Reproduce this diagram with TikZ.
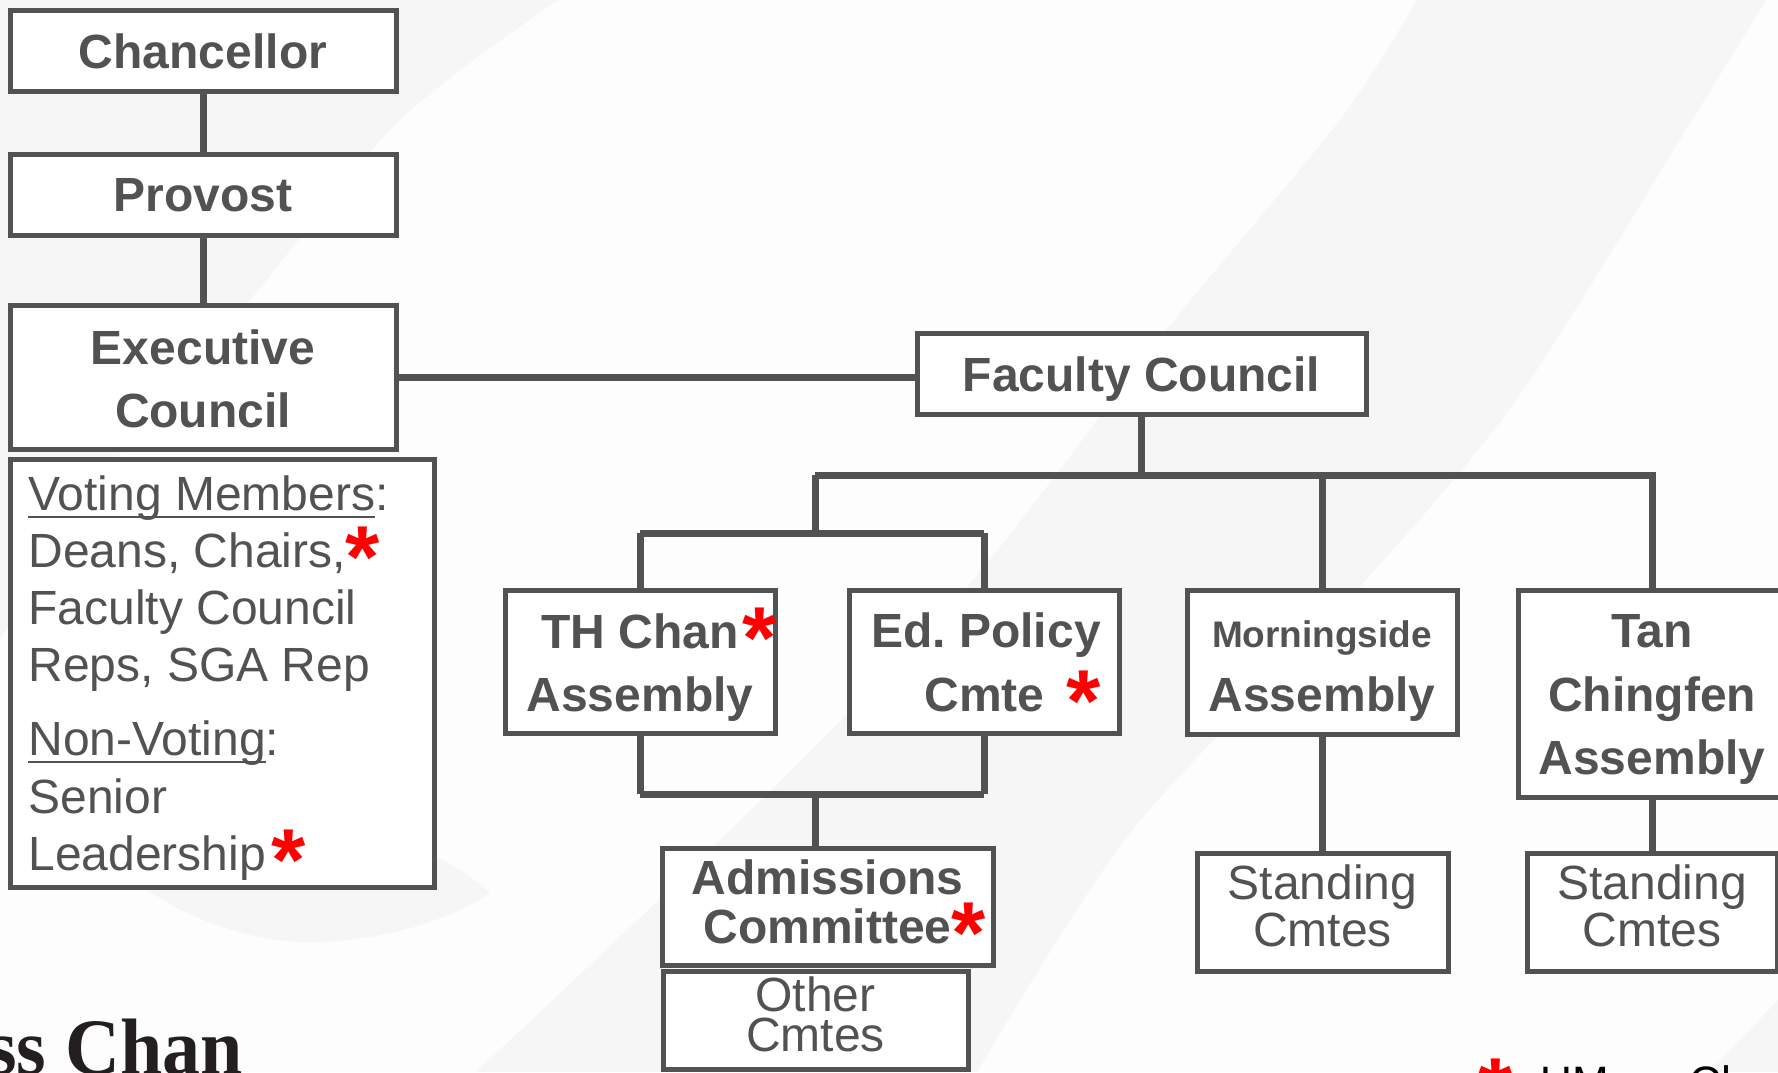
\documentclass[tikz,border=0pt]{standalone}
\usepackage{fontspec}
\setmainfont{Liberation Sans}
\newfontfamily\brandserif{Liberation Serif}
\definecolor{ink}{HTML}{525252}
\definecolor{bgc}{HTML}{FDFDFD}
\definecolor{band}{HTML}{F6F6F6}
\definecolor{starred}{HTML}{FF0000}
\definecolor{brandink}{HTML}{231F20}
\newcommand\redstar{\smash{{\fontsize{44pt}{44pt}\selectfont\raisebox{-0.23em}{\bfseries\color{starred}*}}}}
\newcommand\myul[1]{\setbox0=\hbox{#1}\rlap{\rule[-4pt]{\wd0}{1pt}}\box0}
\tikzset{
  x=0.5pt, y=-0.5pt,
  orgbox/.style={draw=ink, line width=2.5pt, fill=white, inner sep=0pt},
  boldlabel/.style={inner sep=0pt, align=center, text=ink, font=\bfseries\fontsize{24pt}{31.75pt}\selectfont},
  plainlabel/.style={inner sep=0pt, align=center, text=ink, font=\fontsize{24pt}{23.5pt}\selectfont},
  conn/.style={draw=ink, line width=3.5pt},
  vtext/.style={inner sep=0pt, text=ink, font=\fontsize{24pt}{28pt}\selectfont, anchor=base west},
}
\begin{document}
\begin{tikzpicture}
\useasboundingbox (0,0) rectangle (1778,1072);
\begin{scope}
\clip (0,0) rectangle (1778,1072);
\fill[bgc] (0,0) rectangle (1778,1072);
% faint background bands
\fill[band] plot[smooth] coordinates {(1766,0) (1692,120) (1516,400) (1348,600) (1130,833) (977,1072)}
  -- plot[smooth] coordinates {(476,1072) (700,860) (956,600) (1164,333) (1340,120) (1417,0)} -- cycle;
\fill[band] (0,0) -- plot[smooth] coordinates {(558,0) (400,120) (250,300) (115,460) (0,640)} -- cycle;
\fill[band] (110,860) .. controls (180,925) and (260,942) .. (310,942) .. controls (380,942) and (450,920) .. (490,893) .. controls (470,875) and (450,862) .. (420,850) -- cycle;
\fill[band] (1710,1072) -- (1778,1000) -- (1778,1072) -- cycle;

% boxes
\node[orgbox, minimum width=193pt, minimum height=40.5pt] (chan) at (203,50.5) {};
\node[orgbox, minimum width=193pt, minimum height=40.5pt] (prov) at (203,194.5) {};
\node[orgbox, minimum width=193pt, minimum height=72pt] (exec) at (203,377) {};
\node[orgbox, minimum width=212pt, minimum height=214pt] (vote) at (222,673) {};
\node[orgbox, minimum width=224.5pt, minimum height=40.5pt] (fac) at (1141.5,373.5) {};
\node[orgbox, minimum width=135pt, minimum height=71.5pt] (th) at (640,661.5) {};
\node[orgbox, minimum width=135pt, minimum height=71.5pt] (ed) at (984,661.5) {};
\node[orgbox, minimum width=135pt, minimum height=72pt] (morn) at (1322,662) {};
\node[orgbox, minimum width=134pt, minimum height=103.5pt] (tan) at (1652,693.5) {};
\node[orgbox, minimum width=165.5pt, minimum height=58.5pt] (adm) at (827.5,906.5) {};
\node[orgbox, minimum width=152.5pt, minimum height=49pt] (oth) at (815.5,1020) {};
\node[orgbox, minimum width=125.5pt, minimum height=59pt] (st1) at (1322.5,912) {};
\node[orgbox, minimum width=125pt, minimum height=59pt] (st2) at (1652,912) {};

% box labels
\node[boldlabel] (chanL) at ([yshift=-0.5pt]chan.center) {Chancellor};
\node[boldlabel] (provL) at ([yshift=-0.5pt]prov.center) {Provost};
\node[boldlabel] (execL) at ([yshift=-1pt]exec.center) {Executive\\Council};
\node[boldlabel] (facL) at ([yshift=-3pt]fac.center) {Faculty Council};
\node[boldlabel] (thL) at ([yshift=-3pt]th.center) {TH Chan\rlap{\kern2pt\redstar}\\Assembly};
\node[boldlabel, align=right] (edL) at ([xshift=1pt,yshift=-0.5pt]ed.center) {Ed.\ Policy\\Cmte\kern11pt\redstar};
\node[boldlabel] (mornL) at ([yshift=-4.5pt]morn.center) {{\fontsize{18.5pt}{31.75pt}\selectfont Morningside}\\Assembly};
\node[boldlabel] (tanL) at ([yshift=-3pt]tan.center) {Tan\\Chingfen\\Assembly};
\node[boldlabel, font=\bfseries\fontsize{24pt}{24.5pt}\selectfont] (admL) at ([yshift=2.5pt]adm.center) {Admissions\\Committee\rlap{\redstar}};
\node[plainlabel, font=\fontsize{24pt}{20pt}\selectfont] (othL) at ([yshift=3pt]oth.center) {Other\\Cmtes};
\node[plainlabel] (st1L) at ([yshift=3pt]st1.center) {Standing\\Cmtes};
\node[plainlabel] (st2L) at ([yshift=3pt]st2.center) {Standing\\Cmtes};

% voting members text
\node[vtext] (v1) at (28,510) {\myul{Voting Members}:};
\node[vtext] (v2) at (28,567) {Deans, Chairs,\redstar};
\node[vtext] (v3) at (28,624) {Faculty Council};
\node[vtext] (v4) at (28,681) {Reps, SGA Rep};
\node[vtext] (v5) at (28,755) {\myul{Non-Voting}:};
\node[vtext] (v6) at (28,813) {Senior};
\node[vtext] (v7) at (28,870) {Leadership\kern3pt\redstar};

% connectors
\coordinate (busL) at (815,475);
\coordinate (busR) at (1652,475);
\coordinate (subT) at (815,533);
\coordinate (subB) at (815,794);
\draw[conn] (chan) -- (prov);
\draw[conn] (prov) -- (exec);
\draw[conn] (exec.east) -- (exec.east -| fac.west);
\draw[conn] (fac.south) -- (fac.south |- busL);
\draw[conn] (busL) -- (busR) -- (tan.north);
\draw[conn] (morn.north |- busL) -- (morn.north);
\draw[conn] (busL) -- (subT);
\draw[conn] (th.north |- subT) -- (ed.north |- subT);
\draw[conn] (th.north |- subT) -- (th.north);
\draw[conn] (ed.north |- subT) -- (ed.north);
\draw[conn] (th.south) -- (th.south |- subB);
\draw[conn] (ed.south) -- (ed.south |- subB);
\draw[conn] (th.south |- subB) -- (ed.south |- subB);
\draw[conn] (subB) -- (subB |- adm.north);
\draw[conn] (morn.south) -- (morn.south |- st1.north);
\draw[conn] (tan.south) -- (st2.north);

% cut-off texts at the bottom
\node[anchor=base east, inner sep=0pt, text=brandink, font=\brandserif\bfseries\fontsize{40pt}{40pt}\selectfont] (brand) at (243,1074) {\scalebox{0.95}[1]{UMass Chan}};
\node[anchor=base west, inner sep=0pt] (legstar) at (1478,1099) {\redstar};
\node[anchor=base west, inner sep=0pt, text=black, font=\fontsize{22pt}{22pt}\selectfont] (legend) at (1540,1097) {UMass Chan};
\end{scope}
\end{tikzpicture}
\end{document}
